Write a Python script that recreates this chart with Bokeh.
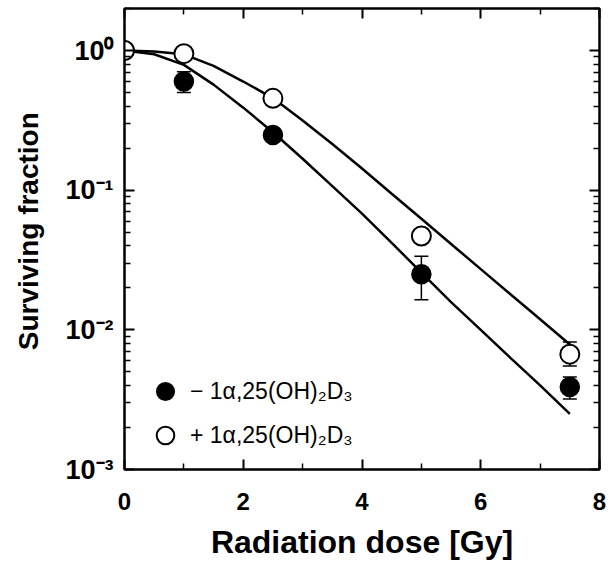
from bokeh.plotting import figure
from bokeh.models import (Range1d, FixedTicker, LogAxis, LinearAxis, Whisker,
                          TeeHead, ColumnDataSource, Legend, LegendItem)
from bokeh.embed import file_html
from bokeh.resources import INLINE

# ---- data ----
dose = [0, 1, 2.5, 5, 7.5]
sf_minus = [1.0, 0.60, 0.248, 0.0250, 0.0039]
sf_minus_lo = [1.0, 0.50, 0.248, 0.0164, 0.0032]
sf_minus_hi = [1.0, 0.705, 0.248, 0.0336, 0.0046]
sf_plus = [1.0, 0.95, 0.455, 0.047, 0.0067]
sf_plus_lo = [1.0, 0.95, 0.455, 0.047, 0.0055]
sf_plus_hi = [1.0, 0.95, 0.455, 0.047, 0.0082]

fit_dose = [0, 0.5, 1, 1.5, 2, 2.5, 3, 3.5, 4, 4.5, 5, 5.5, 6, 6.5, 7, 7.5]
fit_minus = [1.0, 0.94, 0.79, 0.57, 0.39, 0.26, 0.168, 0.107, 0.068, 0.042,
             0.0257, 0.0158, 0.0100, 0.0063, 0.0040, 0.0025]
fit_plus = [1.0, 0.985, 0.94, 0.776, 0.60, 0.457, 0.316, 0.214, 0.143, 0.0944,
            0.0624, 0.0412, 0.0272, 0.0180, 0.0119, 0.00785]

x_ticks = [0, 2, 4, 6, 8]
x_minor = [1, 3, 5, 7]
y_ticks = [0.001, 0.01, 0.1, 1.0]
y_tick_labels = ["10\u207b\u00b3", "10\u207b\u00b2", "10\u207b\u00b9", "10\u2070"]
y_minor = [m * 10.0 ** e for e in (-3, -2, -1) for m in range(2, 10)] + [2.0]

label_minus = "\u2212 1\u03b1,25(OH)\u2082D\u2083"
label_plus = "+ 1\u03b1,25(OH)\u2082D\u2083"
y_title = "\u00a0\u00a0Surviving fraction"

FONT = "Liberation Sans"

p = figure(width=613, height=562, y_axis_type="log",
           x_range=Range1d(0, 8), y_range=Range1d(0.001, 2.0),
           output_backend="svg", toolbar_location=None,
           min_border_left=124, min_border_right=14, min_border_top=8,
           min_border_bottom=93)
p.outline_line_color = "black"
p.outline_line_width = 2
p.xgrid.visible = False
p.ygrid.visible = False
p.background_fill_color = "white"


def style_axis(ax, labels=True):
    ax.axis_line_width = 2
    ax.major_tick_in = 10
    ax.major_tick_out = 0
    ax.minor_tick_in = 6
    ax.minor_tick_out = 0
    ax.major_tick_line_width = 2
    ax.minor_tick_line_width = 1.5
    ax.major_label_text_font = FONT
    ax.major_label_text_font_style = "bold"
    ax.major_label_text_color = "black"
    ax.axis_label_text_font = FONT
    ax.axis_label_text_font_style = "bold"
    ax.axis_label_text_color = "black"
    if not labels:
        ax.major_label_text_font_size = "1px"
        ax.major_label_text_color = None
        ax.major_label_standoff = 0


xa = p.xaxis[0]
xa.ticker = FixedTicker(ticks=x_ticks, minor_ticks=x_minor)
style_axis(xa)
xa.axis_label = "Radiation dose [Gy]"
xa.axis_label_text_font_size = "32px"
xa.major_label_text_font_size = "24px"
xa.major_label_standoff = 23
xa.axis_label_standoff = 11

ya = p.yaxis[0]
ya.ticker = FixedTicker(ticks=y_ticks, minor_ticks=y_minor)
style_axis(ya)
ya.axis_label = y_title
ya.axis_label_text_font_size = "28px"
ya.major_label_text_font_size = "27px"
ya.major_label_standoff = 11
ya.axis_label_standoff = 18
ya.major_label_overrides = {v: s for v, s in zip(y_ticks, y_tick_labels)}

top_ax = LinearAxis(ticker=FixedTicker(ticks=x_ticks, minor_ticks=x_minor))
style_axis(top_ax, labels=False)
p.add_layout(top_ax, "above")
right_ax = LogAxis(ticker=FixedTicker(ticks=y_ticks, minor_ticks=y_minor))
style_axis(right_ax, labels=False)
p.add_layout(right_ax, "right")

# fitted curves
p.line(fit_dose, fit_minus, line_color="black", line_width=2.5)
p.line(fit_dose, fit_plus, line_color="black", line_width=2.5)

# error bars
src_m = ColumnDataSource(dict(x=dose, lo=sf_minus_lo, hi=sf_minus_hi))
src_p = ColumnDataSource(dict(x=dose, lo=sf_plus_lo, hi=sf_plus_hi))
for src in (src_m, src_p):
    w = Whisker(base="x", lower="lo", upper="hi", source=src,
                line_color="black", line_width=1.5,
                upper_head=TeeHead(size=14, line_width=1.5, line_color="black"),
                lower_head=TeeHead(size=14, line_width=1.5, line_color="black"))
    p.add_layout(w)

r_minus = p.scatter(dose, sf_minus, size=19, marker="circle",
                    fill_color="black", line_color="black", line_width=1.5)
r_plus = p.scatter(dose, sf_plus, size=19, marker="circle",
                   fill_color="white", line_color="black", line_width=2)

legend = Legend(items=[LegendItem(label=label_minus, renderers=[r_minus]),
                       LegendItem(label=label_plus, renderers=[r_plus])],
                location=(19, 12), glyph_width=44, glyph_height=44,
                label_height=44, spacing=0, padding=0, margin=0,
                label_standoff=3, border_line_color=None,
                background_fill_alpha=0, label_text_font=FONT,
                label_text_font_size="23px", label_text_color="black")
p.add_layout(legend, "center")

open("out.html", "w").write(file_html(p, INLINE))
